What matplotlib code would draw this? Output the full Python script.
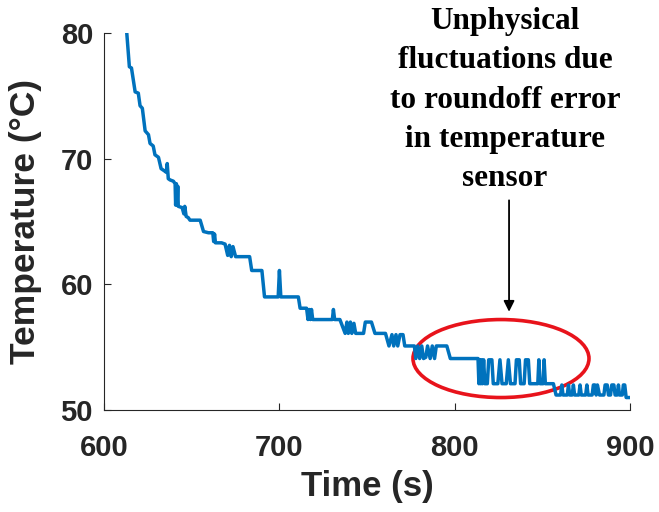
import matplotlib
matplotlib.use("Agg")
import matplotlib.pyplot as plt
from matplotlib.patches import Ellipse

# temperature trace (time in s, temperature in degC)
time_s = [612.8, 614.4, 615.6, 617.7, 619.5, 620.5, 621.8, 623.4, 625.3, 626.2,
          628.0, 629.0, 631.0, 632.5, 634.6, 635.5, 636.0, 636.6, 637.6, 639.5,
          640.5, 640.8, 641.2, 641.6, 642.0, 642.3, 644.5, 645.5, 646.0, 646.8,
          648.0, 649.0, 654.8, 656.7, 659.5, 662.0, 662.5, 663.0, 663.5, 667.0,
          669.0, 670.5, 671.5, 672.5, 673.5, 675.0, 683.0, 684.2, 690.0, 691.5,
          699.3, 700.0, 700.8, 710.8, 711.8, 715.5, 716.3, 717.0, 717.7, 718.3,
          719.0, 730.2, 730.8, 731.5, 734.5, 737.5, 738.5, 739.3, 740.5, 741.3,
          742.5, 743.5, 748.0, 749.0, 752.5, 754.5, 760.5, 762.5, 764.2, 765.2,
          766.5, 767.5, 768.8, 770.5, 771.5, 777.0, 777.8, 779.0, 780.0, 781.2,
          782.2, 783.5, 784.5, 786.0, 787.2, 788.5, 789.5, 791.5, 795.5, 797.5,
          813.3, 813.8, 814.3, 814.8, 815.3, 815.8, 816.5, 817.2, 818.6, 819.4,
          821.2, 822.0, 824.6, 825.8, 827.0, 829.4, 830.6, 831.8, 834.4, 835.2,
          836.8, 837.6, 839.6, 840.4, 842.0, 842.8, 847.4, 848.0, 848.7, 850.4,
          851.0, 851.7, 856.3, 857.8, 860.4, 861.1, 861.8, 864.2, 864.9, 865.6,
          867.0, 867.7, 868.4, 870.8, 871.5, 872.2, 874.7, 875.4, 876.1, 878.4,
          879.1, 880.0, 880.7, 881.4, 882.6, 885.1, 885.8, 887.0, 887.7, 888.9,
          889.6, 890.8, 891.5, 892.7, 893.4, 894.0, 895.6, 896.2, 897.0, 897.8,
          900.0]
temp_c = [80.2, 77.3, 77.2, 75.3, 75.2, 74.2, 74.0, 72.2, 71.9, 71.2,
          71.0, 70.3, 70.1, 69.2, 69.0, 68.9, 69.6, 68.4, 68.3, 68.2,
          68.0, 66.3, 68.0, 66.3, 67.8, 66.2, 66.1, 65.6, 66.2, 65.4,
          65.3, 65.1, 65.1, 64.2, 64.1, 64.1, 63.4, 64.0, 63.3, 63.3,
          63.2, 62.3, 63.1, 62.2, 63.0, 62.2, 62.2, 61.1, 61.1, 59.0,
          59.0, 61.1, 59.0, 59.0, 58.1, 58.1, 57.2, 58.0, 57.2, 58.0,
          57.2, 57.2, 58.0, 57.2, 57.2, 56.1, 57.0, 56.1, 57.0, 56.1,
          56.9, 56.1, 56.1, 57.0, 57.0, 56.1, 56.1, 55.1, 56.0, 55.1,
          56.0, 55.1, 56.0, 56.0, 55.1, 55.1, 54.1, 55.1, 54.1, 55.1,
          54.1, 54.2, 55.1, 54.1, 55.1, 54.1, 55.1, 55.1, 55.1, 54.1,
          54.1, 52.1, 54.0, 52.1, 54.0, 52.1, 54.0, 52.1, 52.1, 54.0,
          54.0, 52.1, 52.1, 54.0, 52.1, 52.1, 54.0, 52.1, 52.1, 54.0,
          54.0, 52.1, 52.1, 54.0, 54.0, 52.1, 52.1, 54.0, 52.1, 52.1,
          54.0, 52.1, 52.1, 51.2, 51.2, 52.0, 51.2, 51.2, 52.0, 51.2,
          51.2, 52.0, 51.2, 51.2, 52.0, 51.2, 51.2, 52.0, 51.2, 51.2,
          52.0, 52.0, 51.2, 52.0, 51.2, 51.2, 52.0, 52.0, 51.2, 51.2,
          52.0, 52.0, 51.2, 51.2, 52.0, 51.2, 51.2, 52.0, 52.0, 51.0,
          51.0]

x_ticks = [600, 700, 800, 900]
y_ticks = [50, 60, 70, 80]
note = "Unphysical\nfluctuations due\nto roundoff error\nin temperature\nsensor"

fig = plt.figure(figsize=(6.59, 5.12), dpi=100)
ax = fig.add_axes([0.158, 0.199, 0.798, 0.737])

ax.plot(time_s, temp_c, color="#0072BD", lw=2.5)

ax.set_xlim(600, 900)
ax.set_ylim(50, 80)
ax.set_xticks(x_ticks)
ax.set_yticks(y_ticks)

for s in ["top", "right"]:
    ax.spines[s].set_visible(False)
for s in ["left", "bottom"]:
    ax.spines[s].set_color("#262626")
    ax.spines[s].set_linewidth(0.8)

ax.tick_params(direction="in", length=5, width=0.8, color="#262626",
               labelcolor="#262626")
ax.tick_params(axis="x", pad=17)
ax.tick_params(axis="y", pad=8)
for lab in ax.get_xticklabels() + ax.get_yticklabels():
    lab.set_fontfamily("Liberation Sans")
    lab.set_fontweight("bold")
    lab.set_fontsize(21)

ax.set_xlabel("Time (s)", family="Liberation Sans", weight="bold",
              fontsize=25, color="#262626")
ax.set_ylabel("Temperature (\u00b0C)", family="Liberation Sans",
              weight="bold", fontsize=25.5, color="#262626")
ax.xaxis.set_label_coords(0.5, -0.158)
ax.yaxis.set_label_coords(-0.118, 0.5)

# red ring around the noisy part
ring = Ellipse((826.4, 54.1), width=100.4, height=6.2, fill=False,
               edgecolor="#e8131b", lw=2.6)
ax.add_patch(ring)

ax.annotate("", xy=(831, 57.6), xytext=(831, 66.9),
            arrowprops=dict(arrowstyle="-|>", color="black", lw=1.3,
                            mutation_scale=16),
            annotation_clip=False)

fig.text(505 / 659, 1 - 7 / 512, note, ha="center", va="top",
         family="Liberation Serif", weight="bold", fontsize=22.5,
         linespacing=1.47, multialignment="center")

fig.savefig("out.png", dpi=100)
